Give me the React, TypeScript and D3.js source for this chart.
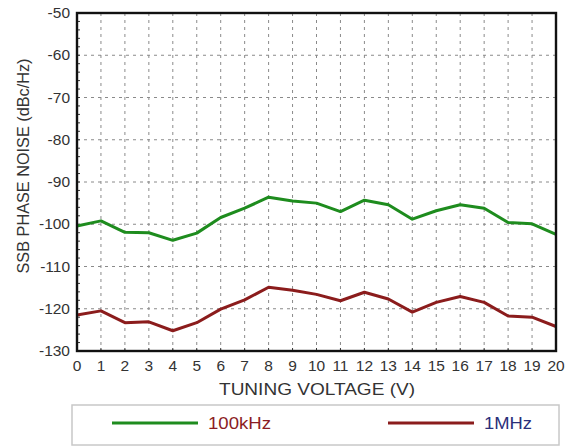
import React from 'react'
import * as d3 from 'd3'

// tuning voltage (V)
const voltages = d3.range(0, 21)

// SSB phase noise (dBc/Hz)
const noise100k = [
  -100.4, -99.2, -101.9, -102.0, -103.8, -102.1, -98.4, -96.2, -93.6, -94.5,
  -95.0, -97.0, -94.3, -95.4, -98.8, -96.8, -95.4, -96.2, -99.6, -99.9, -102.4,
]
const noise1M = [
  -121.5, -120.5, -123.3, -123.1, -125.2, -123.3, -120.1, -117.9, -114.9, -115.6,
  -116.6, -118.1, -116.1, -117.7, -120.8, -118.5, -117.1, -118.5, -121.7, -122.0, -124.2,
]

const yTicks = [-50, -60, -70, -80, -90, -100, -110, -120, -130]

const series = [
  { name: '100kHz', values: noise100k, color: '#1e8c1e', labelColor: '#8b1c24', len: 63 },
  { name: '1MHz', values: noise1M, color: '#8b1c1c', labelColor: '#2b2f7a', len: 48 },
]

const W = 570
const H = 446
const margin = { left: 77, top: 13, right: 14, bottom: 95 }
const font = 'Arial, "Liberation Sans", sans-serif'

export default function App() {
  const x = d3.scaleLinear().domain([0, 20]).range([margin.left, W - margin.right])
  const y = d3.scaleLinear().domain([-130, -50]).range([H - margin.bottom, margin.top])

  const line = d3
    .line<number>()
    .x((_, i) => x(voltages[i]))
    .y((d) => y(d))

  const [x0, x1] = x.range()
  const [y0, y1] = y.range()
  const minor = d3.range(-130, -49, 2)

  return (
    <svg width={W} height={H} style={{ position: 'absolute', left: 0, top: 0, background: '#fff' }}>
      {/* grid */}
      <g stroke="#8a8a8a" strokeWidth={1} strokeDasharray="3,4">
        {voltages.slice(1, -1).map((v) => (
          <line key={'vx' + v} x1={x(v)} x2={x(v)} y1={y1} y2={y0} />
        ))}
        {yTicks.slice(1, -1).map((v) => (
          <line key={'hy' + v} x1={x0} x2={x1} y1={y(v)} y2={y(v)} />
        ))}
      </g>
      {/* minor ticks */}
      <g stroke="#333" strokeWidth={1}>
        {minor.map((v) => (
          <line key={'m' + v} x1={x0} x2={x0 + 3} y1={y(v)} y2={y(v)} />
        ))}
        {voltages.map((v) => (
          <line key={'t' + v} x1={x(v)} x2={x(v)} y1={y0} y2={y0 - 3} />
        ))}
      </g>
      {/* series */}
      {series.map((s) => (
        <path key={s.name} d={line(s.values) ?? ''} fill="none" stroke={s.color} strokeWidth={3} strokeLinejoin="round" />
      ))}
      {/* frame */}
      <rect x={x0} y={y1} width={x1 - x0} height={y0 - y1} fill="none" stroke="#111" strokeWidth={2.4} />
      {/* y tick labels */}
      <g fontFamily={font} fontSize={15.5} fill="#333" textAnchor="end">
        {yTicks.map((v) => (
          <text key={v} x={x0 - 7} y={y(v) + 5}>{v}</text>
        ))}
      </g>
      {/* x tick labels */}
      <g fontFamily={font} fontSize={15.5} fill="#333" textAnchor="middle">
        {voltages.map((v) => (
          <text key={v} x={x(v)} y={y0 + 20}>{v}</text>
        ))}
      </g>
      <text x={219} y={395} textLength={196} lengthAdjust="spacingAndGlyphs" fontFamily={font} fontSize={17} fill="#333">
        TUNING VOLTAGE (V)
      </text>
      <text
        transform="translate(29, 166) rotate(-90)"
        fontFamily={font}
        fontSize={17}
        fill="#333"
        textAnchor="middle"
        textLength={215}
        lengthAdjust="spacingAndGlyphs"
      >
        SSB PHASE NOISE (dBc/Hz)
      </text>
      {/* legend */}
      <rect x={72} y={405} width={487} height={40} fill="#fff" stroke="#c8c8c8" strokeWidth={1.5} />
      {series.map((s, i) => {
        const lx = i === 0 ? 112 : 388
        return (
          <g key={s.name}>
            <line x1={lx} x2={lx + 86} y1={423} y2={423} stroke={s.color} strokeWidth={3} />
            <text
              x={lx + 96}
              y={429}
              textLength={s.len}
              lengthAdjust="spacingAndGlyphs"
              fontFamily={font}
              fontSize={17}
              fill={s.labelColor}
            >
              {s.name}
            </text>
          </g>
        )
      })}
    </svg>
  )
}
